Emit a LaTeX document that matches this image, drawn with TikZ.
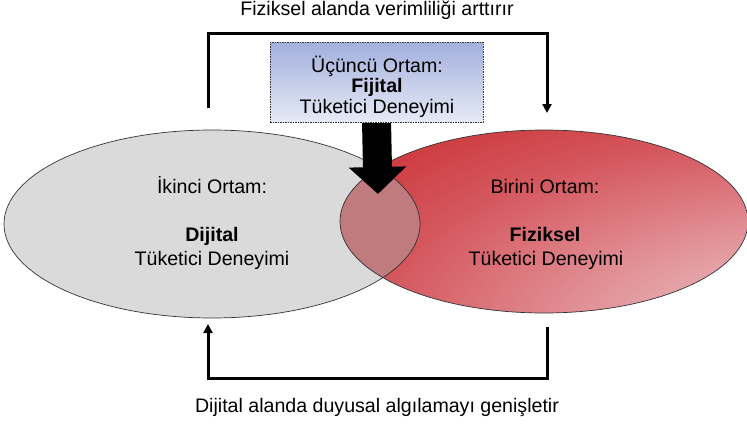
\documentclass[tikz,border=0pt]{standalone}
\usepackage{fontspec}
\setmainfont{Liberation Sans}
\usetikzlibrary{arrows.meta,shapes.geometric}
\definecolor{ellgray}{HTML}{DADADA}
\definecolor{lenscol}{HTML}{BF7B7D}
\definecolor{redA}{HTML}{F3E4E6}
\definecolor{redB}{HTML}{E39CA1}
\definecolor{redC}{HTML}{D5585F}
\definecolor{redD}{HTML}{C8282A}
\definecolor{boxtop}{HTML}{A2AFDC}
\definecolor{boxbot}{HTML}{E6EAF6}
\definecolor{edge}{HTML}{333333}
\pgfdeclareradialshading{redglow}{\pgfpoint{43bp}{-40bp}}{color(0bp)=(redA); color(28bp)=(redB); color(50bp)=(redC); color(72bp)=(redD); color(170bp)=(redD)}
\tikzset{
  lbl/.style={font=\fontsize{19.6pt}{22pt}\selectfont, anchor=base, inner sep=0pt},
  bold/.style={lbl, font=\fontsize{19.6pt}{22pt}\selectfont\bfseries},
  conn/.style={line width=3pt, -{Triangle[length=9pt,width=9pt]}},
  outline/.style={draw=edge, line width=0.7pt},
}
\begin{document}
\begin{tikzpicture}[x=1pt,y=-1pt]
\useasboundingbox (0,0) rectangle (747,426);
% ellipses
\node[ellipse, fill=ellgray, minimum width=416pt, minimum height=188pt, inner sep=0pt, outer sep=0pt] (L) at (212,224) {};
\node[ellipse, shade, shading=redglow, minimum width=408pt, minimum height=183pt, inner sep=0pt, outer sep=0pt] (R) at (544,221.5) {};
\begin{scope}
  \clip (L.center) ellipse [x radius=208pt, y radius=94pt];
  \fill[lenscol] (R.center) ellipse [x radius=204pt, y radius=91.5pt];
\end{scope}
\draw[outline] (L.center) ellipse [x radius=208pt, y radius=94pt];
\draw[outline] (R.center) ellipse [x radius=204pt, y radius=91.5pt];
% top box and big arrow
\coordinate (ftip) at (378,194);
\node[minimum width=213pt, minimum height=80pt, inner sep=0pt, outer sep=0pt] (boxpos) at (376.5,82) {};
\draw[line width=29pt, -{Triangle[length=27pt,width=56pt]}] ([yshift=2pt]boxpos.south) -- (ftip);
\node[draw=edge, dash pattern=on 1.5pt off 1pt, line width=0.6pt, top color=boxtop, bottom color=boxbot, minimum width=213pt, minimum height=80pt, inner sep=0pt, outer sep=0pt] (box) at (376.5,82) {};
% box text
\node[lbl] (b1) at (377,72) {Üçüncü Ortam:};
\node[bold] (b2) at (377,92) {Fijital};
\node[lbl] (b3) at (377,113) {Tüketici Deneyimi};
% left text
\node[lbl] (l1) at (212,193) {İkinci Ortam:};
\node[bold] (l2) at (212,241) {Dijital};
\node[lbl] (l3) at (212,265) {Tüketici Deneyimi};
% right text
\node[lbl] (r1) at (545,193) {Birini Ortam:};
\node[bold] (r2) at (545,241) {Fiziksel};
\node[lbl] (r3) at (546,265) {Tüketici Deneyimi};
% connectors
\coordinate (ts) at (208,108);
\coordinate (tc) at (378,33);
\coordinate (te) at (547,113);
\draw[conn] (ts) |- (tc) -| (te);
\coordinate (bs) at (547,327);
\coordinate (bc) at (378,378);
\coordinate (be) at (208,324);
\draw[conn] (bs) |- (bc) -| (be);
% captions
\node[lbl] (top) at (377,15) {Fiziksel alanda verimliliği arttırır};
\node[lbl] (bot) at (377,412) {Dijital alanda duyusal algılamayı genişletir};
\end{tikzpicture}
\end{document}
